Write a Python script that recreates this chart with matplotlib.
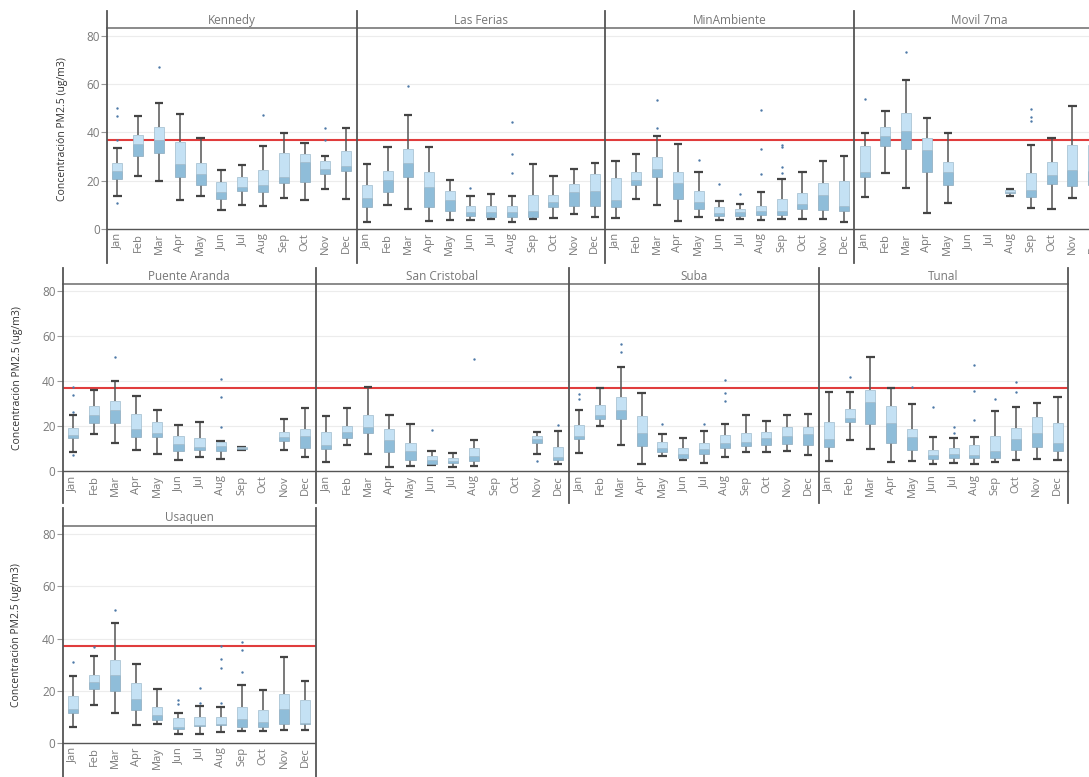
import matplotlib.pyplot as plt
from matplotlib.lines import Line2D

plt.rcParams['font.family'] = ['Open Sans', 'DejaVu Sans']

# ---------------- DATA ----------------
MONTHS = ['Jan', 'Feb', 'Mar', 'Apr', 'May', 'Jun',
          'Jul', 'Aug', 'Sep', 'Oct', 'Nov', 'Dec']
LIMIT = 37  # norma PM2.5 24h

# per month: (whisker low, q1, median, q3, whisker high), None = no data
KENNEDY = [(13.8, 20.6, 24.0, 27.2, 33.4), (22.1, 30.3, 35.2, 39.0, 46.8),
           (20.0, 31.3, 36.8, 42.1, 52.1), (12.0, 21.5, 26.8, 35.9, 47.6),
           (13.8, 18.1, 22.8, 27.2, 37.5), (7.7, 12.3, 15.2, 19.4, 24.4),
           (9.9, 15.7, 17.5, 21.7, 26.6), (9.5, 15.2, 18.1, 24.6, 34.2),
           (12.7, 19.0, 21.4, 31.6, 39.6), (12.0, 19.4, 27.9, 31.0, 35.7),
           (16.4, 22.8, 24.7, 28.1, 30.3), (12.4, 24.0, 26.1, 32.3, 41.9)]
KENNEDY_OUT = [(1, 50.2), (1, 46.8), (1, 36.7), (1, 10.9), (3, 67.2), (8, 47.2),
               (11, 41.7), (11, 36.6)]

LAS_FERIAS = [(3.0, 9.0, 13.0, 18.1, 26.9), (9.8, 15.3, 20.1, 23.9, 33.9),
              (8.3, 21.5, 27.4, 33.2, 47.3), (3.4, 9.0, 17.2, 23.4, 33.9),
              (3.7, 7.4, 12.0, 15.9, 20.4), (3.7, 5.2, 6.9, 9.7, 13.5),
              (4.1, 4.8, 7.2, 9.7, 14.6), (3.0, 4.8, 7.0, 9.7, 13.8),
              (4.3, 4.8, 7.3, 14.1, 26.9), (4.4, 9.0, 11.2, 13.9, 21.9),
              (6.3, 9.4, 15.3, 18.6, 24.8), (5.1, 9.7, 15.9, 22.8, 27.3)]
LAS_FERIAS_OUT = [(3, 59.2), (6, 17.1), (8, 44.3), (8, 30.9), (8, 23.3)]

MINAMBIENTE = [(4.4, 9.0, 12.0, 21.0, 28.3), (12.4, 18.2, 20.3, 23.7, 30.9),
               (9.9, 21.4, 24.8, 29.7, 38.6), (3.4, 12.3, 19.2, 23.7, 35.3),
               (4.8, 8.1, 11.3, 15.9, 23.7), (3.7, 5.4, 6.5, 9.0, 11.7),
               (4.3, 5.5, 6.9, 8.1, 10.3), (3.7, 5.7, 7.6, 9.7, 15.4),
               (4.0, 5.8, 7.6, 12.3, 20.8), (4.1, 8.1, 10.2, 14.9, 23.6),
               (4.1, 7.7, 14.1, 19.2, 28.3), (3.0, 7.3, 9.4, 19.7, 30.3)]
MINAMBIENTE_OUT = [(3, 53.2), (3, 41.9), (5, 28.4), (6, 18.8), (7, 14.6),
                   (8, 49.1), (8, 33.1), (8, 22.9),
                   (9, 34.6), (9, 33.8), (9, 25.8), (9, 23.0)]

MOVIL_7MA = [(13.4, 21.5, 23.4, 34.2, 39.9), (23.3, 34.3, 38.5, 42.3, 48.6),
             (17.1, 33.1, 40.6, 48.1, 61.7), (6.8, 23.4, 32.6, 37.5, 46.1),
             (10.6, 18.1, 23.4, 27.7, 39.6), None, None,
             (13.5, 14.8, 15.3, 16.0, 16.4), (8.8, 13.1, 16.1, 23.3, 34.8),
             (8.4, 18.5, 22.3, 27.7, 37.8), (12.7, 17.9, 24.6, 34.6, 50.8),
             (10.0, 18.0, 24.0, 34.6, 45.0)]
MOVIL_7MA_OUT = [(1, 53.9), (3, 73.4), (9, 49.5), (9, 46.5), (9, 44.8)]

PUENTE_ARANDA = [(8.7, 14.6, 16.2, 19.0, 24.9), (16.4, 21.5, 24.8, 28.9, 36.3),
                 (12.4, 21.5, 27.0, 31.4, 40.1), (9.3, 15.1, 18.6, 25.5, 33.4),
                 (7.7, 15.4, 17.1, 21.8, 27.2), (5.0, 8.9, 12.1, 15.8, 20.7),
                 (6.2, 9.3, 10.9, 14.6, 22.1), (5.5, 8.9, 11.2, 13.1, 13.3),
                 (9.4, 9.7, 10.2, 10.6, 10.9), None,
                 (9.3, 13.3, 15.4, 17.3, 23.3), (6.2, 10.2, 15.6, 18.6, 27.9)]
PUENTE_ARANDA_OUT = [(1, 37.5), (1, 33.9), (1, 26.3), (1, 7.2), (3, 50.6),
                     (8, 41.0), (8, 33.1), (8, 19.6)]

SAN_CRISTOBAL = [(4.0, 9.9, 11.7, 17.6, 24.6), (11.7, 14.6, 17.6, 20.2, 28.2),
                 (7.7, 16.8, 19.8, 25.2, 37.3), (1.8, 8.4, 14.1, 18.8, 24.9),
                 (2.5, 4.9, 9.0, 12.4, 21.0), (3.0, 3.4, 5.0, 6.6, 9.0),
                 (1.8, 3.5, 4.7, 5.8, 8.0), (2.5, 4.6, 6.8, 10.2, 14.1),
                 None, None,
                 (7.7, 12.4, 14.3, 15.8, 17.4), (3.2, 4.9, 6.5, 10.6, 18.0)]
SAN_CRISTOBAL_OUT = [(6, 18.3), (8, 49.9), (11, 4.7), (12, 20.5)]

SUBA = [(8.1, 14.2, 15.6, 20.4, 27.2), (19.9, 23.3, 25.2, 29.5, 36.9),
        (11.6, 23.3, 27.0, 33.2, 46.3), (3.2, 11.4, 17.0, 24.4, 34.8),
        (6.8, 8.4, 10.5, 12.8, 16.4), (5.0, 5.8, 7.9, 10.5, 14.9),
        (3.7, 7.7, 9.7, 12.6, 17.9), (6.2, 10.2, 12.7, 16.1, 20.8),
        (8.4, 11.2, 13.0, 17.0, 25.2), (8.4, 11.5, 14.6, 17.3, 22.3),
        (8.9, 12.0, 15.6, 19.5, 24.8), (7.2, 11.5, 16.5, 19.5, 25.5)]
SUBA_OUT = [(1, 34.2), (1, 31.9), (3, 56.7), (3, 53.0), (5, 21.1), (7, 20.8),
            (8, 40.7), (8, 34.8), (8, 31.1)]

TUNAL = [(4.7, 11.0, 14.3, 21.7, 35.1), (13.7, 21.7, 23.5, 27.5, 35.3),
         (10.1, 21.1, 30.8, 36.0, 50.8), (4.1, 12.7, 21.3, 28.8, 37.0),
         (4.7, 9.4, 15.4, 18.6, 29.8), (3.4, 5.6, 7.2, 9.6, 15.2),
         (3.7, 5.9, 7.9, 10.3, 14.6), (3.4, 5.8, 7.2, 11.5, 15.2),
         (4.1, 5.8, 9.0, 15.5, 26.9), (4.9, 9.3, 14.3, 19.0, 28.6),
         (5.5, 10.6, 17.0, 23.9, 30.1), (4.9, 9.0, 12.7, 21.3, 33.1)]
TUNAL_OUT = [(2, 41.8), (5, 37.5), (6, 28.6), (7, 19.8), (7, 17.1),
             (8, 47.4), (8, 35.8), (8, 22.8), (9, 32.3), (10, 39.7), (10, 35.1)]

USAQUEN = [(6.0, 11.6, 13.2, 17.9, 25.7), (14.5, 20.7, 23.4, 26.2, 33.4),
           (11.6, 20.1, 26.2, 31.6, 45.9), (6.9, 12.8, 17.0, 23.0, 30.3),
           (7.2, 8.9, 10.6, 13.8, 20.8), (3.6, 5.5, 6.1, 9.6, 11.6),
           (3.3, 6.6, 6.8, 9.9, 14.1), (4.2, 6.8, 7.2, 9.9, 13.8),
           (4.6, 6.1, 9.1, 13.6, 22.1), (4.6, 6.1, 8.0, 12.8, 20.2),
           (5.1, 7.4, 12.9, 18.9, 33.0), (5.1, 7.4, 7.8, 16.6, 23.9)]
USAQUEN_OUT = [(1, 31.1), (2, 36.7), (3, 50.9), (6, 16.6), (6, 15.1),
               (7, 21.1), (7, 15.4), (8, 37.3), (8, 32.3), (8, 28.6), (8, 15.4),
               (9, 38.7), (9, 35.8), (9, 27.2)]

# ---------------- LAYOUT (pixels) ----------------
W, H = 1089, 777
fig = plt.figure(figsize=(W / 100, H / 100), dpi=100)

# name, stats, outliers, x0, x1, plot top, zero line, title y
panels = [
    ('Kennedy', KENNEDY, KENNEDY_OUT, 107, 356.5, 28.3, 229, 20.5),
    ('Las Ferias', LAS_FERIAS, LAS_FERIAS_OUT, 356.5, 605.2, 28.3, 229, 20.5),
    ('MinAmbiente', MINAMBIENTE, MINAMBIENTE_OUT, 605.2, 854.3, 28.3, 229, 20.5),
    ('Movil 7ma', MOVIL_7MA, MOVIL_7MA_OUT, 854.3, 1103.5, 28.3, 229, 20.5),
    ('Puente Aranda', PUENTE_ARANDA, PUENTE_ARANDA_OUT, 62.5, 315.5, 284.3, 471.3, 276.5),
    ('San Cristobal', SAN_CRISTOBAL, SAN_CRISTOBAL_OUT, 315.5, 568.8, 284.3, 471.3, 276.5),
    ('Suba', SUBA, SUBA_OUT, 568.8, 818.5, 284.3, 471.3, 276.5),
    ('Tunal', TUNAL, TUNAL_OUT, 818.5, 1068, 284.3, 471.3, 276.5),
    ('Usaquen', USAQUEN, USAQUEN_OUT, 62.5, 315.5, 526.3, 743, 517.5),
]
first_panels = ['Kennedy', 'Puente Aranda', 'Usaquen']
ylabel_x = {'Kennedy': 62, 'Puente Aranda': 18, 'Usaquen': 17}

LIGHT = '#c4e1f4'
DARK = '#8fbdd9'
WHISK = '#555555'
TXT = '#7a7a7a'


def fig_line(x0, y0, x1, y1, color, lw):
    fig.add_artist(Line2D([x0 / W, x1 / W], [1 - y0 / H, 1 - y1 / H],
                          color=color, lw=lw, transform=fig.transFigure))


for name, stats, outs, x0, x1, top, zero, ty in panels:
    ax = fig.add_axes([x0 / W, 1 - zero / H, (x1 - x0) / W, (zero - top) / H])
    ax.set_xlim(0.5, 12.5)
    ax.set_ylim(0, 83)
    for s in ['top', 'right', 'left']:
        ax.spines[s].set_visible(False)
    ax.spines['bottom'].set_color('#555555')
    ax.spines['bottom'].set_linewidth(1.0)
    ax.set_yticks([0, 20, 40, 60, 80])
    ax.grid(axis='y', color='#ececec', lw=0.8)
    ax.set_axisbelow(True)
    ax.axhline(LIMIT, color='#e03c3c', lw=1.5, zorder=1)

    for i, st in enumerate(stats, start=1):
        if st is None:
            continue
        low, q1, med, q3, high = st
        ax.vlines(i, low, q1, color=WHISK, lw=1.1, zorder=2)
        ax.vlines(i, q3, high, color=WHISK, lw=1.1, zorder=2)
        ax.hlines([low, high], i - 0.2, i + 0.2, color='#444444', lw=1.6, zorder=2)
        ax.bar(i, med - q1, bottom=q1, width=0.48, color=DARK,
               edgecolor='#8aa9bd', lw=0.5, zorder=3)
        ax.bar(i, q3 - med, bottom=med, width=0.48, color=LIGHT,
               edgecolor='#9fbccd', lw=0.5, zorder=3)
    if outs:
        ax.scatter([m for m, v in outs], [v for m, v in outs], s=3,
                   color='#4e79a7', zorder=4, linewidths=0)

    ax.set_xticks(range(1, 13))
    ax.set_xticklabels(MONTHS, rotation=90, fontsize=8, color=TXT)
    ax.tick_params(axis='x', length=0, pad=3)
    if name in first_panels:
        ax.tick_params(axis='y', length=4, color='#999999', labelsize=8.5,
                       labelcolor=TXT, pad=1)
        fig.text(ylabel_x[name] / W, 1 - (top + zero) / 2 / H,
                 'Concentración PM2.5 (ug/m3)', rotation=90, fontsize=7.5,
                 color='#333333', ha='center', va='center')
    else:
        ax.tick_params(axis='y', length=0, labelleft=False)

    # panel title and header line
    fig.text((x0 + x1) / 2 / W, 1 - ty / H, name, fontsize=8.5, color='#777777',
             ha='center', va='center')
    fig_line(x0, top, x1, top, '#8a8a8a', 1.4)

# ---------------- FRAMES ----------------
for x in [107, 356.5, 605.2, 854.3]:
    fig_line(x, 11, x, 263, '#555555', 1.3)
for x in [62.5, 315.5, 568.8, 818.5, 1068]:
    fig_line(x, 268, x, 503, '#555555', 1.3)
for x in [62.5, 315.5]:
    fig_line(x, 508, x, 777, '#555555', 1.3)

plt.savefig('out.png', dpi=100)
